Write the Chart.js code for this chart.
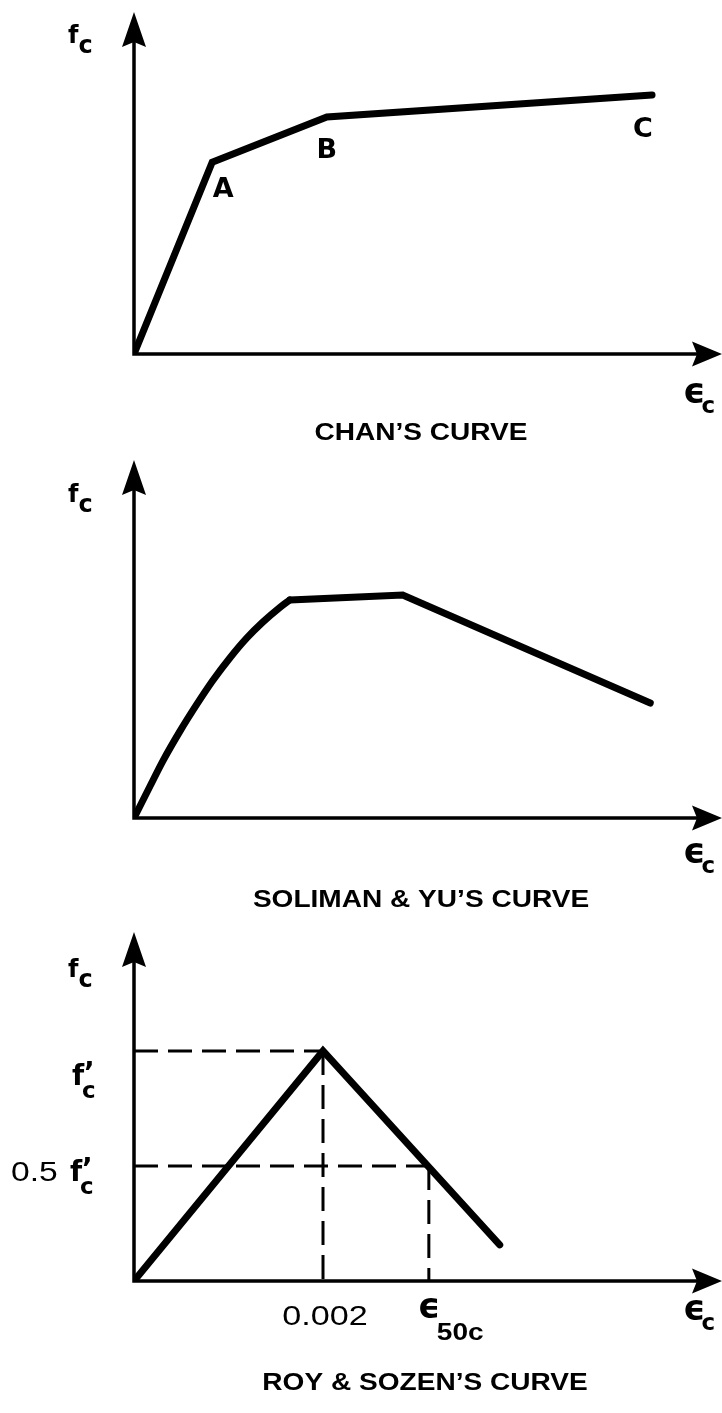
<!DOCTYPE html>
<html>
  <head>
    <meta charset="UTF-8" />
    <title>Concrete stress-strain curves</title>
    <script src="https://cdn.jsdelivr.net/npm/chart.js"></script>
    <style>
      body {
        margin: 0;
        background: #fff;
      }
      .panel {
        position: absolute;
        left: 0;
        width: 722px;
      }
    </style>
  </head>
  <body>
    <div class="panel" style="top:0;height:450px"><canvas id="chanChart"></canvas></div>
    <div class="panel" style="top:450px;height:465px"><canvas id="solimanChart"></canvas></div>
    <div class="panel" style="top:915px;height:498px"><canvas id="royChart"></canvas></div>

    <script>
      // Chan's curve: O, A, B, C (schematic strain / stress units)
      const chanStrain = [0, 1.33, 3.28, 8.81];
      const chanStress = [0, 5.61, 6.93, 7.57];
      const chanPointNames = ["", "A", "B", "C"];

      // Soliman & Yu: curved rising branch, then plateau and falling branch
      const solimanRiseStrain = [0, 0.27, 0.49, 0.78, 1.07, 1.34, 1.63, 1.92, 2.19, 2.48, 2.65];
      const solimanRiseStress = [0, 0.88, 1.59, 2.42, 3.18, 3.84, 4.47, 5.03, 5.47, 5.88, 6.09];
      const solimanFallStrain = [2.65, 4.57, 8.78];
      const solimanFallStress = [6.09, 6.23, 3.21];

      // Roy & Sozen: linear up to f'c at 0.002, linear down through 0.5 f'c at e50c
      const royStrain = [0, 0.002, 0.00387];
      const royStress = [0, 1, 0.157];
      const royXTickValues = [0.002, 0.00312];   // 0.002, e50c
      const royYTickValues = [1, 0.5];           // f'c, 0.5 f'c

      const titles = ["CHAN\u2019S CURVE", "SOLIMAN & YU\u2019S CURVE", "ROY & SOZEN\u2019S CURVE"];

      const SYM = '"DejaVu Sans"';
      const SANS = '"Liberation Sans", Arial, sans-serif';
      const STRETCH = 1.22;

      function toPoints(xs, ys) {
        return xs.map((x, i) => ({ x: x, y: ys[i] }));
      }

      // Draw text, optionally stretched horizontally; returns drawn width.
      function drawText(ctx, text, x, y, font, align, stretch) {
        align = align || "left";
        stretch = stretch || 1;
        ctx.save();
        ctx.font = font;
        ctx.fillStyle = "#000";
        ctx.textBaseline = "alphabetic";
        ctx.textAlign = align;
        ctx.translate(x, y);
        ctx.scale(stretch, 1);
        ctx.fillText(text, 0, 0);
        const w = ctx.measureText(text).width * stretch;
        ctx.restore();
        return w;
      }

      // axis names: f_c and epsilon_c
      function drawFc(ctx, x, y) {
        const w = drawText(ctx, "f", x, y, "bold 24px " + SYM);
        drawText(ctx, "c", x + w, y + 10, "bold 24px " + SYM);
      }
      function drawEc(ctx, x, y) {
        const w = drawText(ctx, "\u03F5", x, y, "bold 35px " + SYM);
        drawText(ctx, "c", x + w - 4, y + 10, "bold 23px " + SYM);
      }
      // f'c with the c dropped below
      function drawFpc(ctx, x, y) {
        drawText(ctx, "f", x, y, "bold 28px " + SYM);
        drawText(ctx, "\u2019", x + 12, y - 3, "bold 28px " + SYM);
        drawText(ctx, "c", x + 10, y + 13, "bold 23px " + SYM);
      }

      // Axes drawn from the origin of the scales, with arrow heads at the ends.
      const axesPlugin = {
        id: "axesWithArrows",
        beforeDatasetsDraw(chart) {
          const { ctx, chartArea } = chart;
          const ox = chart.scales.x.getPixelForValue(0);
          const oy = chart.scales.y.getPixelForValue(0);
          const top = chartArea.top;
          const right = chartArea.right;
          ctx.save();
          ctx.strokeStyle = "#000";
          ctx.fillStyle = "#000";
          ctx.lineWidth = 3.5;
          ctx.beginPath();
          ctx.moveTo(ox, oy + 1.75);
          ctx.lineTo(ox, top + 25);
          ctx.moveTo(ox - 1.75, oy);
          ctx.lineTo(right - 20, oy);
          ctx.stroke();
          // up arrow
          ctx.beginPath();
          ctx.moveTo(ox, top);
          ctx.lineTo(ox - 12, top + 35);
          ctx.lineTo(ox, top + 30);
          ctx.lineTo(ox + 12, top + 35);
          ctx.closePath();
          ctx.fill();
          // right arrow
          ctx.beginPath();
          ctx.moveTo(right, oy);
          ctx.lineTo(right - 30, oy - 12.5);
          ctx.lineTo(right - 25, oy);
          ctx.lineTo(right - 30, oy + 12.5);
          ctx.closePath();
          ctx.fill();
          ctx.restore();
        }
      };

      function baseOptions(xMax, yMax, pad) {
        return {
          responsive: true,
          maintainAspectRatio: false,
          animation: false,
          events: [],
          layout: { padding: pad },
          plugins: { legend: { display: false }, tooltip: { enabled: false } },
          scales: {
            x: { type: "linear", min: 0, max: xMax, display: false },
            y: { type: "linear", min: 0, max: yMax, display: false }
          }
        };
      }

      function thickLine(data, extra) {
        return Object.assign({
          data: data,
          borderColor: "#000",
          borderWidth: 7,
          pointRadius: 0,
          tension: 0,
          fill: false,
          borderCapStyle: "round",
          borderJoinStyle: "miter"
        }, extra || {});
      }

      // ---- Chan's curve ----
      new Chart(document.getElementById("chanChart"), {
        type: "line",
        data: { datasets: [thickLine(toPoints(chanStrain, chanStress))] },
        options: baseOptions(10, 10, { left: 134, right: 0, top: 12, bottom: 96 }),
        plugins: [axesPlugin, {
          id: "chanLabels",
          afterDraw(chart) {
            const ctx = chart.ctx;
            const xs = chart.scales.x, ys = chart.scales.y;
            const offsets = [null, [11, 35], [0, 41], [-9, 42]];
            chanPointNames.forEach((name, i) => {
              if (!name) return;
              const px = xs.getPixelForValue(chanStrain[i]);
              const py = ys.getPixelForValue(chanStress[i]);
              drawText(ctx, name, px + offsets[i][0], py + offsets[i][1], "bold 27px " + SYM, "center");
            });
            drawFc(ctx, 68, 43);
            drawEc(ctx, 683, 403);
            drawText(ctx, titles[0], 421, 440, "bold 23px " + SANS, "center", STRETCH);
          }
        }]
      });

      // ---- Soliman & Yu's curve ----
      new Chart(document.getElementById("solimanChart"), {
        type: "line",
        data: {
          datasets: [
            thickLine(toPoints(solimanRiseStrain, solimanRiseStress), { cubicInterpolationMode: "monotone", borderJoinStyle: "round" }),
            thickLine(toPoints(solimanFallStrain, solimanFallStress))
          ]
        },
        options: baseOptions(10, 10, { left: 134, right: 0, top: 10, bottom: 97 }),
        plugins: [axesPlugin, {
          id: "solimanLabels",
          afterDraw(chart) {
            const ctx = chart.ctx;
            drawFc(ctx, 68, 52);
            drawEc(ctx, 683, 413);
            drawText(ctx, titles[1], 421, 457, "bold 23px " + SANS, "center", STRETCH);
          }
        }]
      });

      // ---- Roy & Sozen's curve ----
      const royDash = { borderWidth: 3, borderDash: [24, 10], borderCapStyle: "butt" };
      new Chart(document.getElementById("royChart"), {
        type: "line",
        data: {
          datasets: [
            thickLine([{ x: 0, y: royYTickValues[0] }, { x: royXTickValues[0], y: royYTickValues[0] }], royDash),
            thickLine([{ x: royXTickValues[0], y: royYTickValues[0] }, { x: royXTickValues[0], y: 0 }], royDash),
            thickLine([{ x: 0, y: royYTickValues[1] }, { x: royXTickValues[1], y: royYTickValues[1] }], royDash),
            thickLine([{ x: royXTickValues[1], y: royYTickValues[1] }, { x: royXTickValues[1], y: 0 }], royDash),
            thickLine(toPoints(royStrain, royStress))
          ]
        },
        options: baseOptions(0.006222, 1.517, { left: 134, right: 0, top: 17, bottom: 132 }),
        plugins: [axesPlugin, {
          id: "royLabels",
          afterDraw(chart) {
            const ctx = chart.ctx;
            const xs = chart.scales.x, ys = chart.scales.y;
            const axisY = ys.getPixelForValue(0);
            drawFc(ctx, 68, 62);
            drawEc(ctx, 683, 405);

            // y tick labels
            const pf = ys.getPixelForValue(royYTickValues[0]);
            drawFpc(ctx, 72, pf + 34);
            const ph = ys.getPixelForValue(royYTickValues[1]);
            drawText(ctx, "0.5", 11, ph + 15, "28px " + SANS, "left", 1.2);
            drawFpc(ctx, 70, ph + 15);

            // x tick labels
            const p1 = xs.getPixelForValue(royXTickValues[0]);
            drawText(ctx, "0.002", p1 + 2, axisY + 44, "28px " + SANS, "center", STRETCH);
            const p2 = xs.getPixelForValue(royXTickValues[1]);
            drawText(ctx, "\u03F5", p2 - 11, axisY + 37, "bold 35px " + SYM);
            drawText(ctx, "50c", p2 + 8, axisY + 59, "bold 23px " + SANS, "left", STRETCH);

            drawText(ctx, titles[2], 425, 475, "bold 23px " + SANS, "center", STRETCH);
          }
        }]
      });
    </script>
  </body>
</html>
